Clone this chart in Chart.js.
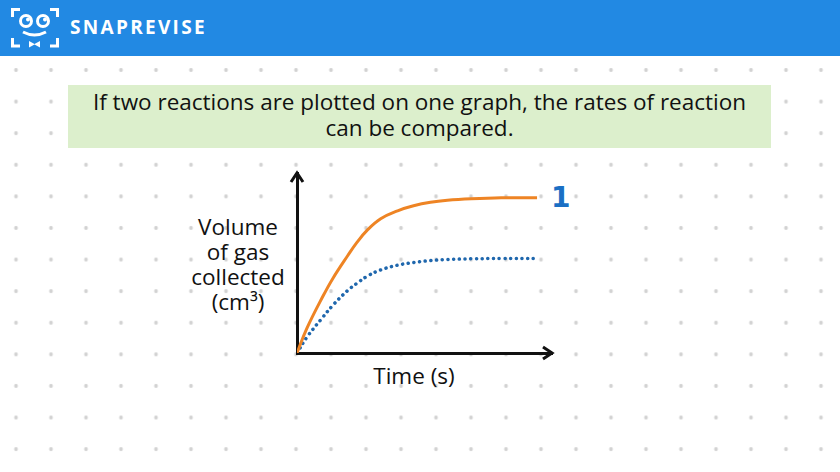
<!DOCTYPE html>
<html>
<head>
<meta charset="utf-8">
<script src="https://cdn.jsdelivr.net/npm/chart.js@4.4.1/dist/chart.umd.min.js"></script>
<style>
  html, body { margin: 0; padding: 0; }
  body {
    width: 840px; height: 472px; overflow: hidden; position: relative;
    background-color: #fff;
    background-image: radial-gradient(circle, #d2d2d2 1.6px, rgba(255,255,255,0) 2.2px);
    background-size: 35px 31.6px;
    background-position: -1.5px 22.6px;
    font-family: "Open Sans", sans-serif;
  }
  .header {
    position: absolute; left: 0; top: 0; width: 840px; height: 56px;
    background: #2289e3;
  }
  .brand {
    position: absolute; left: 70px; top: 14px; color: #fff;
    font-family: "Open Sans", sans-serif; font-weight: 700; font-size: 19px;
    letter-spacing: 2.3px;
  }
  .banner {
    position: absolute; left: 68px; top: 85px; width: 703px; height: 63px;
    background: #dcefcc; color: #111; text-align: center;
    font-size: 22.5px; line-height: 26px; padding-top: 4px; box-sizing: border-box;
  }
  .ylab {
    position: absolute; left: 168px; top: 214px; width: 140px; text-align: center;
    font-size: 22.5px; line-height: 25px; color: #111;
  }
  .xlab {
    position: absolute; left: 344px; top: 360px; width: 140px; text-align: center;
    font-size: 22.5px; color: #111;
  }
  .one {
    position: absolute; left: 551px; top: 181px; color: #1a6fc4;
    font-family: "DejaVu Sans", sans-serif; font-weight: 900; font-size: 28px;
  }
  canvas { position: absolute; left: 0; top: 0; }
</style>
</head>
<body>
<div class="header">
  <svg width="70" height="56" style="position:absolute;left:0;top:0">
    <g fill="none" stroke="#fff" stroke-width="3">
      <path d="M12.5 17 V9.5 H20"/><path d="M50 9.5 H57.5 V17"/>
      <path d="M12.5 38 V46 H20"/><path d="M50 46 H57.5 V38"/>
      <circle cx="26" cy="21" r="5.5"/><circle cx="43" cy="21" r="5.5"/>
      <path d="M23 32 Q34.5 38 46 32"/>
    </g>
    <circle cx="28" cy="19.5" r="2" fill="#fff"/><circle cx="45" cy="19.5" r="2" fill="#fff"/>
    <path d="M29 41 L34.5 44 L40 41 V47.5 L34.5 44.5 L29 47.5 Z" fill="#fff"/>
  </svg>
  <div class="brand">SNAPREVISE</div>
</div>
<div class="banner">If two reactions are plotted on one graph, the rates of reaction<br>can be compared.</div>
<div class="ylab">Volume<br>of gas<br>collected<br>(cm³)</div>
<div class="xlab">Time (s)</div>
<div class="one">1</div>
<canvas id="graph" width="840" height="472"></canvas>
<script>
// time axis (arbitrary units) and volumes
const timeValues = [0, 10, 26, 36, 51, 60, 71, 84, 101, 117, 134, 151, 175, 205, 241];
const reactionOne = [0, 25, 57, 75, 98, 111, 124, 135, 143, 148, 151.5, 153.5, 155, 156, 156];
const reactionTwo = [0, 16, 36, 48, 63, 70, 77.5, 83.5, 88.3, 91, 93, 94, 94.7, 95, 95];
const xMax = 256;
const yMax = 181;

const toPoints = (vals) => vals.map((v, i) => ({ x: timeValues[i], y: v }));

// arrowheads at the ends of both axes
const arrowHeads = {
  id: 'arrowHeads',
  afterDraw(chart) {
    const { ctx, scales } = chart;
    const x0 = scales.x.getPixelForValue(0);
    const x1 = scales.x.getPixelForValue(xMax);
    const y0 = scales.y.getPixelForValue(0);
    const y1 = scales.y.getPixelForValue(yMax);
    ctx.save();
    ctx.strokeStyle = '#111';
    ctx.lineWidth = 3;
    ctx.lineJoin = 'miter';
    ctx.beginPath();
    ctx.moveTo(x0 - 6, y1 + 9);
    ctx.lineTo(x0, y1);
    ctx.lineTo(x0 + 6, y1 + 9);
    ctx.moveTo(x1 - 9, y0 - 6);
    ctx.lineTo(x1, y0);
    ctx.lineTo(x1 - 9, y0 + 6);
    ctx.stroke();
    ctx.restore();
  }
};

new Chart(document.getElementById('graph').getContext('2d'), {
  type: 'line',
  data: {
    datasets: [{
      label: 'Reaction 1',
      data: toPoints(reactionOne),
      borderColor: '#ee8424',
      borderWidth: 3,
      pointRadius: 0,
      tension: 0.4,
      fill: false
    }, {
      label: 'Reaction 2',
      data: toPoints(reactionTwo),
      borderColor: '#1f67ad',
      borderWidth: 3.5,
      borderDash: [0.1, 5.6],
      borderCapStyle: 'round',
      pointRadius: 0,
      tension: 0.4,
      fill: false
    }]
  },
  options: {
    responsive: false,
    animation: false,
    layout: { padding: { left: 289, right: 288, top: 173, bottom: 111 } },
    plugins: { legend: { display: false }, tooltip: { enabled: false } },
    scales: {
      x: {
        type: 'linear', min: 0, max: xMax,
        ticks: { display: false },
        grid: { display: false },
        border: { display: true, color: '#111', width: 3 }
      },
      y: {
        type: 'linear', min: 0, max: yMax,
        ticks: { display: false },
        grid: { display: false },
        border: { display: true, color: '#111', width: 3 }
      }
    }
  },
  plugins: [arrowHeads]
});
</script>
</body>
</html>
